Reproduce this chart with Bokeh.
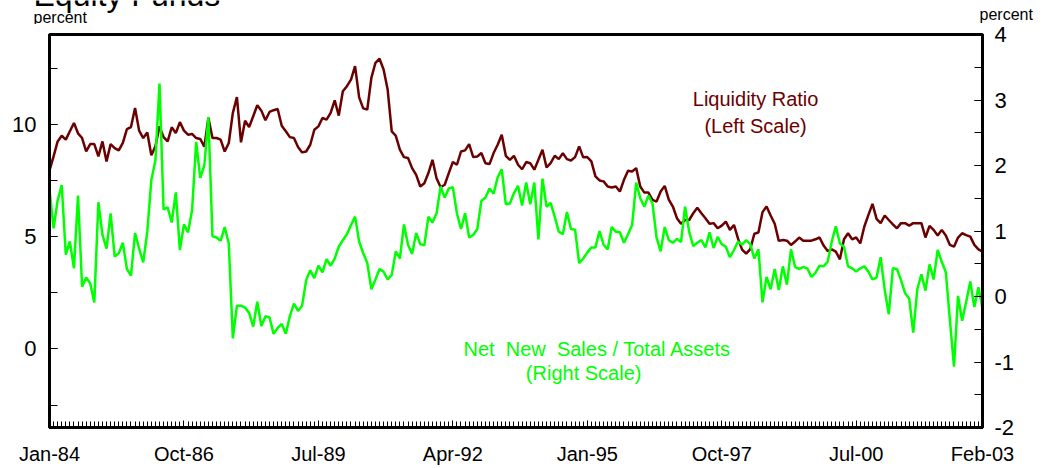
import numpy as np
from bokeh.plotting import figure
from bokeh.layouts import column
from bokeh.models import Range1d, LinearAxis, FixedTicker, Label
from bokeh.embed import file_html
from bokeh.resources import INLINE

# Monthly data, Jan-1984 .. Feb-2003
start_year = 1984
liquidity_ratio = [
    7.95, 8.57, 9.24, 9.49, 9.32, 9.69, 10.06, 9.60, 9.39, 8.80,
    9.12, 9.12, 8.57, 9.24, 8.35, 9.12, 8.94, 8.84, 9.17, 9.79,
    9.88, 10.73, 9.72, 9.39, 9.64, 8.62, 9.02, 9.91, 9.43, 9.24,
    9.87, 9.61, 10.10, 9.72, 9.54, 9.57, 9.39, 9.35, 9.00, 10.28,
    9.39, 9.39, 9.32, 8.79, 9.17, 10.51, 11.21, 9.20, 10.16, 9.88,
    10.36, 10.85, 10.61, 10.18, 10.55, 10.63, 10.68, 9.94, 9.69, 9.43,
    9.39, 8.99, 8.75, 8.79, 9.09, 9.76, 9.91, 10.28, 10.21, 10.51,
    11.07, 10.39, 11.47, 11.70, 11.99, 12.59, 11.20, 10.71, 10.66, 12.07,
    12.74, 12.92, 12.44, 11.55, 9.69, 9.49, 8.87, 8.54, 8.50, 8.05,
    7.75, 7.23, 7.38, 7.83, 8.42, 7.60, 7.20, 7.31, 7.83, 8.32,
    8.20, 8.79, 8.84, 9.12, 8.54, 8.57, 8.72, 8.27, 8.23, 8.72,
    9.09, 9.54, 8.60, 8.42, 8.60, 8.20, 8.00, 8.32, 8.27, 7.98,
    8.42, 8.87, 8.08, 8.27, 8.60, 8.45, 8.72, 8.45, 8.39, 8.54,
    9.02, 8.53, 8.54, 8.35, 7.68, 7.50, 7.46, 7.23, 7.19, 7.23,
    7.01, 7.53, 7.93, 7.90, 8.05, 7.23, 6.96, 6.96, 6.64, 6.56,
    7.01, 7.26, 6.65, 6.34, 5.82, 5.57, 5.74, 5.74, 6.04, 6.29,
    6.04, 5.82, 5.57, 5.60, 5.37, 5.49, 5.67, 5.30, 5.52, 4.91,
    4.42, 4.24, 4.44, 5.13, 5.18, 6.09, 6.34, 5.94, 5.57, 4.81,
    4.85, 4.82, 4.63, 4.78, 4.96, 4.82, 4.82, 4.82, 4.88, 4.96,
    4.60, 4.36, 4.43, 4.33, 3.99, 4.88, 5.15, 4.88, 4.96, 4.70,
    5.45, 5.97, 6.46, 5.79, 5.60, 5.94, 5.74, 5.55, 5.37, 5.60,
    5.60, 5.49, 5.60, 5.60, 5.60, 4.96, 5.48, 5.30, 5.05, 5.30,
    5.05, 4.63, 4.55, 4.96, 5.15, 5.07, 5.00, 4.63, 4.43, 4.33,
]
net_new_sales = [
    1.63, 1.04, 1.47, 1.70, 0.64, 0.84, 0.43, 1.54, 0.15, 0.29,
    0.20, -0.09, 1.44, 0.94, 0.73, 1.27, 0.61, 0.66, 0.82, 0.42,
    0.32, 0.97, 0.73, 0.52, 0.99, 1.78, 2.08, 3.25, 1.33, 1.36,
    1.13, 1.59, 0.71, 1.10, 0.98, 1.32, 2.36, 1.81, 2.00, 2.74,
    0.92, 0.90, 0.85, 1.06, 0.81, -0.64, -0.14, -0.14, -0.17, -0.25,
    -0.46, -0.08, -0.45, -0.30, -0.32, -0.57, -0.48, -0.42, -0.57, -0.30,
    -0.11, -0.22, -0.14, 0.25, 0.40, 0.28, 0.47, 0.37, 0.57, 0.47,
    0.58, 0.76, 0.86, 0.95, 1.09, 1.22, 0.84, 0.66, 0.51, 0.11,
    0.26, 0.42, 0.38, 0.26, 0.33, 0.69, 0.58, 1.10, 0.79, 0.65,
    0.97, 0.80, 0.78, 1.22, 1.13, 1.27, 1.68, 1.51, 1.65, 1.67,
    1.27, 1.03, 1.27, 0.90, 0.94, 1.03, 1.46, 1.51, 1.65, 1.57,
    1.82, 1.94, 1.41, 1.42, 1.58, 1.69, 1.39, 1.74, 1.41, 1.74,
    0.87, 1.80, 1.37, 1.43, 1.22, 0.99, 0.95, 1.29, 1.03, 1.02,
    0.51, 0.58, 0.67, 0.75, 0.75, 1.00, 0.79, 0.72, 1.06, 0.99,
    0.98, 0.82, 0.95, 1.09, 1.74, 1.50, 1.37, 1.54, 1.42, 0.90,
    0.69, 1.06, 0.86, 0.82, 0.88, 0.83, 1.37, 0.99, 0.77, 0.82,
    0.86, 0.75, 0.98, 0.74, 0.91, 0.80, 0.76, 0.60, 0.71, 0.84,
    0.79, 0.86, 0.80, 0.58, 0.72, -0.09, 0.30, 0.11, 0.42, 0.10,
    0.46, 0.18, 0.72, 0.45, 0.42, 0.45, 0.43, 0.30, 0.36, 0.47,
    0.46, 0.53, 0.84, 1.07, 0.81, 0.76, 0.46, 0.43, 0.38, 0.43,
    0.46, 0.38, 0.26, 0.29, 0.60, 0.10, -0.27, 0.43, 0.42, 0.25,
    0.05, -0.03, -0.55, 0.11, 0.34, 0.09, 0.49, 0.26, 0.71, 0.53,
    0.37, -0.36, -1.07, 0.01, -0.37, -0.08, 0.23, -0.16, 0.14, -0.18,
]
tick_labels = ["Jan-84", "Oct-86", "Jul-89", "Apr-92", "Jan-95", "Oct-97", "Jul-00", "Feb-03"]
left_ticks = [0, 5, 10]
left_minor = [-2.5, 0, 2.5, 5, 7.5, 10, 12.5]
right_ticks = [-2, -1, 0, 1, 2, 3, 4]
right_minor = [-2, -1.5, -1, -0.5, 0, 0.5, 1, 1.5, 2, 2.5, 3, 3.5, 4]

MONTHS = {"Jan": 1, "Feb": 2, "Mar": 3, "Apr": 4, "May": 5, "Jun": 6,
          "Jul": 7, "Aug": 8, "Sep": 9, "Oct": 10, "Nov": 11, "Dec": 12}


def month_index(lbl):
    mon, yy = lbl.split("-")
    yr = int(yy)
    yr = 1900 + yr if yr > 50 else 2000 + yr
    return (yr - start_year) * 12 + MONTHS[mon] - 1


x = np.arange(len(liquidity_ratio))
tick_pos = [month_index(t) for t in tick_labels]

FONT = "Liberation Sans"
RED = "#6B0000"
GREEN = "#00FF00"
W = 1051
TOP_H = 24


def no_frame_align(fig):
    try:
        fig.frame_align = False
    except Exception:
        pass


# ---- heading strip (title + unit captions) ----
top = figure(width=W, height=TOP_H, output_backend="svg", toolbar_location=None,
             title_location=None,
             x_range=Range1d(0, W), y_range=Range1d(TOP_H, 0),
             min_border_left=0, min_border_right=0, min_border_top=0,
             min_border_bottom=0, x_axis_type=None, y_axis_type=None)
no_frame_align(top)
top.outline_line_color = None
top.background_fill_color = "white"
top.border_fill_color = "white"
for txt, tx, ty, size in [("Equity Funds", 33, -6, "32px"),
                          ("percent", 33, 16.5, "16px"),
                          ("percent", 979, 13.5, "16px")]:
    top.add_layout(Label(x=tx, y=ty, text=txt, text_font=FONT, text_font_size=size,
                         text_color="black", text_align="left",
                         text_baseline="alphabetic"))

# ---- main chart ----
p = figure(width=W, height=468 - TOP_H, output_backend="svg", toolbar_location=None,
           x_range=Range1d(0, len(x) - 1), y_range=Range1d(-3.5, 14),
           min_border_left=49, min_border_right=69, min_border_top=34 - TOP_H,
           min_border_bottom=41)
no_frame_align(p)
p.extra_y_ranges = {"right": Range1d(-2, 4)}
p.xgrid.visible = False
p.ygrid.visible = False
p.outline_line_color = "black"
p.outline_line_width = 3
p.background_fill_color = "white"
p.border_fill_color = "white"

p.line(x, liquidity_ratio, line_color=RED, line_width=2.5)
p.line(x, net_new_sales, y_range_name="right", line_color=GREEN, line_width=2.5)

xa = p.xaxis[0]
xa.ticker = FixedTicker(ticks=tick_pos, minor_ticks=list(range(len(x))))
xa.major_label_overrides = {pos: lbl for pos, lbl in zip(tick_pos, tick_labels)}
xa.major_tick_in = 7
xa.major_tick_out = 0
xa.minor_tick_in = 6
xa.minor_tick_out = 0
xa.axis_line_width = 3
xa.major_tick_line_color = "black"
xa.minor_tick_line_color = "black"
xa.major_label_standoff = 15
xa.major_label_text_font = FONT
xa.major_label_text_font_size = "20px"
xa.major_label_text_color = "black"

ya = p.yaxis[0]
ya.ticker = FixedTicker(ticks=left_ticks, minor_ticks=left_minor)
ya.major_tick_in = 8
ya.major_tick_out = 0
ya.minor_tick_in = 8
ya.minor_tick_out = 0
ya.axis_line_width = 3
ya.minor_tick_line_color = "black"
ya.major_tick_line_color = "black"
ya.major_label_standoff = 13
ya.major_label_text_font = FONT
ya.major_label_text_font_size = "22px"
ya.major_label_text_color = "black"

ra = LinearAxis(y_range_name="right",
                ticker=FixedTicker(ticks=right_ticks, minor_ticks=right_minor))
ra.major_label_overrides = {t: str(t) for t in right_ticks}
ra.major_tick_in = 8
ra.major_tick_out = 0
ra.minor_tick_in = 8
ra.minor_tick_out = 0
ra.axis_line_width = 3
ra.minor_tick_line_color = "black"
ra.major_tick_line_color = "black"
ra.major_label_standoff = 12
ra.major_label_text_font = FONT
ra.major_label_text_font_size = "22px"
ra.major_label_text_color = "black"
p.add_layout(ra, "right")


def add_label(xv, yv, text, color):
    p.add_layout(Label(x=xv, y=yv, text=text, text_color=color, text_font=FONT,
                       text_font_size="20px", text_align="center",
                       text_baseline="alphabetic"))


add_label(173.3, 11.14, "Liquidity Ratio", RED)
add_label(173.3, 9.94, "(Left Scale)", RED)
add_label(134.5, 0.01, "Net \u00a0New \u00a0Sales / Total Assets", GREEN)
add_label(131.1, -1.08, "(Right Scale)", GREEN)

layout = column(top, p, spacing=0)
open("out.html", "w").write(file_html(layout, INLINE))
